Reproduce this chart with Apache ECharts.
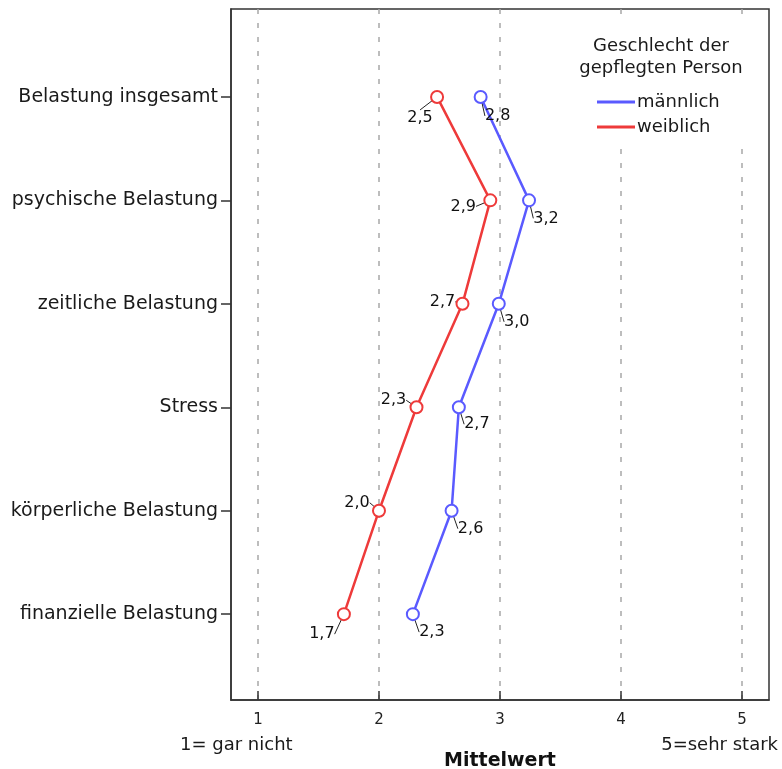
<!DOCTYPE html>
<html>
<head>
<meta charset="utf-8">
<script src="https://cdn.jsdelivr.net/npm/echarts@6/dist/echarts.min.js"></script>
<style>
  html, body { margin: 0; padding: 0; background: #fff; }
  #chart { width: 782px; height: 769px; }
</style>
</head>
<body>
<div id="chart"></div>
<script>
// Daten
var categories = ['Belastung insgesamt', 'psychische Belastung', 'zeitliche Belastung', 'Stress', 'körperliche Belastung', 'finanzielle Belastung']
var maennlich = [2.84, 3.24, 2.99, 2.66, 2.60, 2.28]
var weiblich = [2.48, 2.92, 2.69, 2.31, 2.00, 1.71]
var xTicks = [1, 2, 3, 4, 5]
var yTicks = [1, 2, 3, 4, 5, 6]   // Position der Kategorien (1-basiert)
var seriesNames = ['männlich', 'weiblich']

// Farben / Schrift
var blue = '#5a5aff'
var red = '#ee3a3a'
var font = 'DejaVu Sans'
// Verschiebung der Beschriftungen (dx, dy)
var labelShift = [
    [[17, 19], [17, 18], [18, 18], [18, 17], [19, 18], [19, 18]],
    [[-17, 21], [-27, 6], [-20, -2], [-23, -7], [-22, -8], [-22, 20]]
]

function toPoints(vals) {
    return vals.map(function (v, i) { return [v, yTicks[i]] })
}

function fmt(v) {
    return v.toFixed(1).replace('.', ',')
}

function makeSeries(name, vals, color) {
    return {
        name: name,
        type: 'line',
        data: toPoints(vals),
        symbol: 'emptyCircle',
        symbolSize: 12,
        lineStyle: { color: color, width: 2.5 },
        itemStyle: { color: color, borderWidth: 1.5 },
        label: {
            show: true,
            position: 'inside',
            fontFamily: font,
            fontSize: 16,
            color: '#111',
            formatter: function (p) { return fmt(p.value[0]) }
        },
        labelLine: { show: true, lineStyle: { color: '#222', width: 1 } },
        emphasis: { disabled: true }
    }
}

var option = {
    animation: false,
    grid: {
        left: 231, right: 13, top: 9, bottom: 69,
        outerBoundsMode: 'none',
        show: true, borderColor: '#333', borderWidth: 1.5
    },
    xAxis: {
        type: 'value',
        min: 0.777,
        max: 5.223,
        name: 'Mittelwert',
        nameLocation: 'middle',
        nameGap: 52,
        nameTextStyle: { fontFamily: font, fontSize: 19, fontWeight: 'bold', color: '#111' },
        axisLine: { show: true, lineStyle: { color: '#333', width: 1.5 } },
        axisTick: { show: true, inside: true, customValues: xTicks, length: 9, lineStyle: { color: '#333', width: 1.5 } },
        axisLabel: { customValues: xTicks, fontFamily: font, fontSize: 15, color: '#222', margin: 13 },
        splitLine: { show: true, lineStyle: { color: '#a8a8a8', type: [5, 9], width: 1.5 } }
    },
    yAxis: {
        type: 'value',
        inverse: true,
        min: 0.15,
        max: 6.83,
        axisLine: { show: true, onZero: false, lineStyle: { color: '#333', width: 1.5 } },
        axisTick: { show: true, customValues: yTicks, length: 10, lineStyle: { color: '#333', width: 1.5 } },
        axisLabel: {
            customValues: yTicks,
            fontFamily: font, fontSize: 19, color: '#1a1a1a', margin: 13,
            formatter: function (v) { return categories[v - 1] }
        },
        splitLine: { show: false }
    },
    legend: {
        data: seriesNames,
        orient: 'vertical',
        left: 592,
        top: 88,
        icon: 'rect',
        itemWidth: 38,
        itemHeight: 3,
        itemGap: 7,
        textStyle: { fontFamily: font, fontSize: 18, color: '#1a1a1a', padding: [0, 0, 0, -3] }
    },
    labelLayout: function (p) {
        var s = labelShift[p.seriesIndex][p.dataIndex]
        return { dx: s[0], dy: s[1] }
    },
    graphic: [
        { type: 'rect', z: 1, shape: { x: 574, y: 23, width: 190, height: 122 }, style: { fill: '#fff' } },
        { type: 'text', z: 5, x: 661, y: 35, style: {
            text: 'Geschlecht der\ngepflegten Person', align: 'center',
            font: '18px "DejaVu Sans"', lineHeight: 22, fill: '#1a1a1a' } },
        { type: 'text', z: 5, x: 180, y: 736, style: {
            text: '1= gar nicht', font: '18px "DejaVu Sans"', fill: '#1a1a1a' } },
        { type: 'text', z: 5, x: 778, y: 736, style: {
            text: '5=sehr stark', align: 'right', font: '18px "DejaVu Sans"', fill: '#1a1a1a' } }
    ],
    series: [
        makeSeries(seriesNames[0], maennlich, blue),
        makeSeries(seriesNames[1], weiblich, red)
    ]
}

var chart = echarts.init(document.getElementById('chart'))
chart.setOption(option)
</script>
</body>
</html>
